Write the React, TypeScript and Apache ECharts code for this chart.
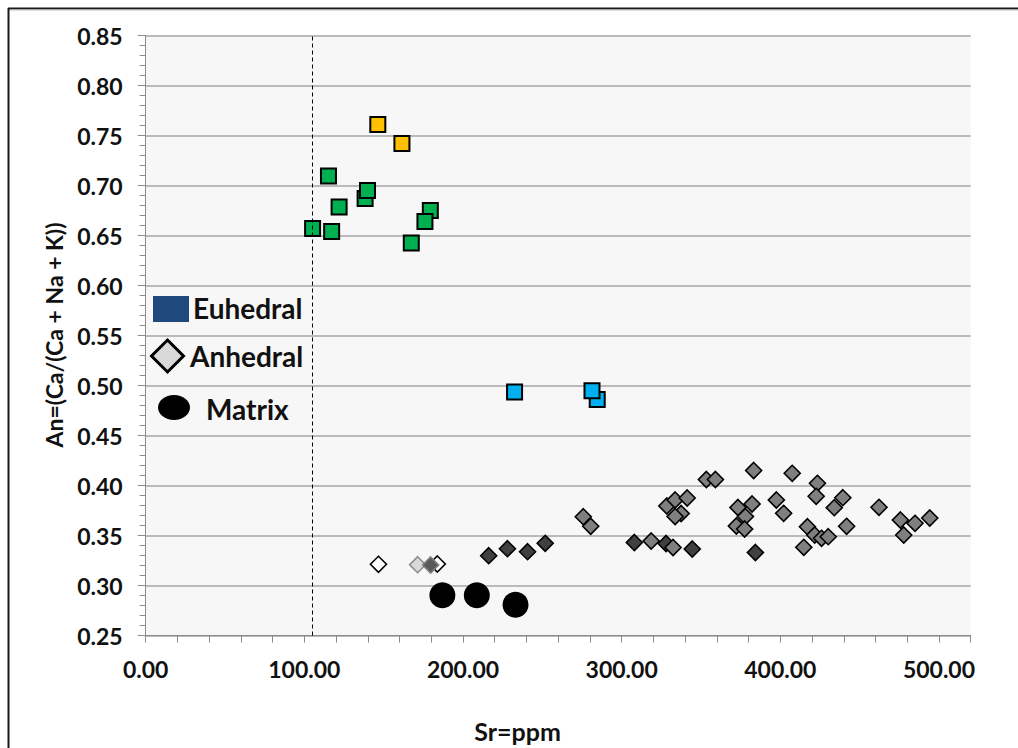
import React, { useEffect, useRef } from "react";
import * as echarts from "echarts";

// Euhedral crystals (squares), split by colour group
const euhedralOrangeSr = [146.3, 161.5];
const euhedralOrangeAn = [0.761, 0.742];
const euhedralGreenSr = [115.2, 138.3, 139.8, 121.9, 179.4, 176.0, 105.2, 117.2, 167.4];
const euhedralGreenAn = [0.7095, 0.687, 0.695, 0.6785, 0.675, 0.664, 0.657, 0.654, 0.6425];
const euhedralBlueSr = [232.5, 284.6, 281.3];
const euhedralBlueAn = [0.4935, 0.486, 0.4948];

// Anhedral crystals (diamonds)
const anhedralWhiteSr = [146.7, 183.8];
const anhedralWhiteAn = [0.3212, 0.3215];
const anhedralLightSr = [171.4];
const anhedralLightAn = [0.3208];
const anhedralSlateSr = [179.6];
const anhedralSlateAn = [0.3205];
const anhedralDarkSr = [216.2, 228.0, 240.7, 251.8, 308.0, 328.0, 344.5, 384.3];
const anhedralDarkAn = [0.3298, 0.3368, 0.3338, 0.3422, 0.343, 0.342, 0.3365, 0.333];
const anhedralGreySr = [
  275.8, 280.5, 318.6, 332.4, 328.5, 333.7, 341.3, 337.5, 333.7, 353.4, 359.1, 383.2,
  373.3, 382.2, 378.0, 372.3, 377.5, 397.5, 402.1, 407.5, 423.4, 422.6, 439.4, 434.0,
  417.1, 421.7, 426.0, 430.2, 414.8, 441.8, 462.2, 475.7, 484.9, 494.2, 477.8,
];
const anhedralGreyAn = [
  0.3688, 0.3592, 0.3445, 0.338, 0.3795, 0.3855, 0.3875, 0.372, 0.369, 0.406, 0.406, 0.415,
  0.378, 0.3815, 0.369, 0.3595, 0.3565, 0.3855, 0.3722, 0.4122, 0.4022, 0.3892, 0.3878, 0.3778,
  0.3588, 0.3505, 0.3472, 0.3488, 0.3382, 0.3592, 0.3782, 0.3655, 0.3622, 0.3675, 0.3505,
];

// Matrix (circles)
const matrixSr = [187.0, 208.7, 233.1];
const matrixAn = [0.2902, 0.2902, 0.2808];

// Reference Sr level (dashed vertical line)
const srThreshold = 105;

// Axis settings
const xMin = 0;
const xMax = 520;
const xStep = 20;
const xLabelEvery = 100;
const yMin = 0.25;
const yMax = 0.85;
const yStep = 0.05;

const xTitle = "Sr=ppm";
const yTitle = "An=(Ca/(Ca + Na + K))";
const legendLabels = ["Euhedral", "Anhedral", "Matrix"];

const FONT = "Lato, 'Open Sans', sans-serif";

const pairs = (xs: number[], ys: number[]) => xs.map((x, i) => [x, ys[i]]);

export default function App() {
  const ref = useRef<HTMLDivElement>(null);

  useEffect(() => {
    if (!ref.current) return;
    const chart = echarts.init(ref.current, null, { renderer: "svg" });

    const square = (name: string, xs: number[], ys: number[], color: string) => ({
      name,
      type: "scatter",
      symbol: "rect",
      symbolSize: 15,
      itemStyle: { color, borderColor: "#000", borderWidth: 2, opacity: 1 },
      data: pairs(xs, ys),
    });
    const diamond = (
      name: string,
      xs: number[],
      ys: number[],
      color: string,
      border: string
    ) => ({
      name,
      type: "scatter",
      symbol: "diamond",
      symbolSize: 16,
      itemStyle: { color, borderColor: border, borderWidth: 1.6, opacity: 1 },
      data: pairs(xs, ys),
    });

    const tickLabel = {
      fontFamily: FONT,
      fontWeight: "bold",
      fontSize: 23,
      color: "#111",
    };

    chart.setOption({
      animation: false,
      backgroundColor: "#ffffff",
      grid: {
        left: 145.7,
        top: 35.5,
        right: 1018 - 970.7,
        bottom: 748 - 635.5,
        show: true,
        backgroundColor: "#f7f7f7",
        borderWidth: 0,
      },
      xAxis: {
        type: "value",
        min: xMin,
        max: xMax,
        interval: xStep,
        axisLine: { show: true, onZero: false, lineStyle: { color: "#8c8c8c", width: 1 } },
        axisTick: { show: true, inside: false, length: 7, lineStyle: { color: "#8c8c8c" } },
        splitLine: { show: false },
        axisLabel: {
          show: true,
          margin: 22,
          ...tickLabel,
          formatter: (v: number) =>
            Math.abs(v % xLabelEvery) < 1e-6 ? v.toFixed(2) : "",
        },
      },
      yAxis: {
        type: "value",
        min: yMin,
        max: yMax,
        interval: yStep,
        axisLine: { show: true, lineStyle: { color: "#8c8c8c", width: 1 } },
        axisTick: { show: true, inside: false, length: 8, lineStyle: { color: "#8c8c8c" } },
        minorTick: { show: true, splitNumber: 5, length: 6, lineStyle: { color: "#8c8c8c" } },
        splitLine: { show: true, lineStyle: { color: "#a6a6a6", width: 1.5 } },
        axisLabel: {
          margin: 23,
          ...tickLabel,
          formatter: (v: number) => v.toFixed(2),
        },
      },
      series: [
        {
          name: "threshold",
          type: "scatter",
          data: [],
          markLine: {
            silent: true,
            symbol: "none",
            label: { show: false },
            lineStyle: { color: "#000", width: 1, type: [4, 3] },
            data: [{ xAxis: srThreshold }],
          },
        },
        square("Euhedral A", euhedralOrangeSr, euhedralOrangeAn, "#ffc000"),
        square("Euhedral B", euhedralGreenSr, euhedralGreenAn, "#00b050"),
        square("Euhedral C", euhedralBlueSr, euhedralBlueAn, "#00b0f0"),
        diamond("Anhedral A", anhedralWhiteSr, anhedralWhiteAn, "#ffffff", "#000"),
        diamond("Anhedral B", anhedralLightSr, anhedralLightAn, "#d9d9d9", "#8c8c8c"),
        diamond("Anhedral C", anhedralSlateSr, anhedralSlateAn, "#595959", "#7f7f7f"),
        diamond("Anhedral D", anhedralDarkSr, anhedralDarkAn, "#404040", "#000"),
        diamond("Anhedral E", anhedralGreySr, anhedralGreyAn, "#7f7f7f", "#000"),
        {
          name: "Matrix",
          type: "scatter",
          symbol: "circle",
          symbolSize: 26,
          itemStyle: { color: "#000", opacity: 1 },
          data: pairs(matrixSr, matrixAn),
        },
      ],
      graphic: [
        // chart frame (top and left edges)
        { type: "line", shape: { x1: 8, y1: 8.5, x2: 1018, y2: 8.5 }, style: { stroke: "#1a1a1a", lineWidth: 2 } },
        { type: "line", shape: { x1: 8, y1: 10, x2: 1018, y2: 10 }, style: { stroke: "#bdbdbd", lineWidth: 1 } },
        { type: "line", shape: { x1: 8.5, y1: 8, x2: 8.5, y2: 748 }, style: { stroke: "#1a1a1a", lineWidth: 2 } },
        // axis titles
        {
          type: "text",
          x: 54,
          y: 335,
          rotation: Math.PI / 2,
          style: {
            text: yTitle,
            fontFamily: FONT,
            fontWeight: "bold",
            fontSize: 23,
            fill: "#111",
            align: "center",
            verticalAlign: "middle",
          },
        },
        {
          type: "text",
          x: 517.5,
          y: 731,
          style: {
            text: xTitle,
            fontFamily: FONT,
            fontWeight: "bold",
            fontSize: 25,
            fill: "#111",
            align: "center",
            verticalAlign: "middle",
          },
        },
        // legend
        { type: "rect", shape: { x: 153, y: 296, width: 36, height: 26 }, style: { fill: "#1f497d" } },
        {
          type: "text",
          x: 193,
          y: 308,
          style: { text: legendLabels[0], fontFamily: FONT, fontWeight: "bold", fontSize: 28, fill: "#111", verticalAlign: "middle" },
        },
        {
          type: "polygon",
          shape: { points: [[167.5, 340], [183.5, 356], [167.5, 372], [151.5, 356]] },
          style: { fill: "#d9d9d9", stroke: "#000", lineWidth: 3 },
        },
        {
          type: "text",
          x: 190,
          y: 356,
          style: { text: legendLabels[1], fontFamily: FONT, fontWeight: "bold", fontSize: 28, fill: "#111", verticalAlign: "middle" },
        },
        { type: "ellipse", shape: { cx: 174, cy: 407.5, rx: 16, ry: 12.5 }, style: { fill: "#000" } },
        {
          type: "text",
          x: 206,
          y: 409,
          style: { text: legendLabels[2], fontFamily: FONT, fontWeight: "bold", fontSize: 28, fill: "#111", verticalAlign: "middle" },
        },
      ],
    });

    return () => chart.dispose();
  }, []);

  return (
    <div
      style={{
        position: "fixed",
        left: 0,
        top: 0,
        width: 1018,
        height: 748,
        overflow: "hidden",
        background: "#fff",
      }}
    >
      <div ref={ref} style={{ width: 1018, height: 748 }} />
    </div>
  );
}
